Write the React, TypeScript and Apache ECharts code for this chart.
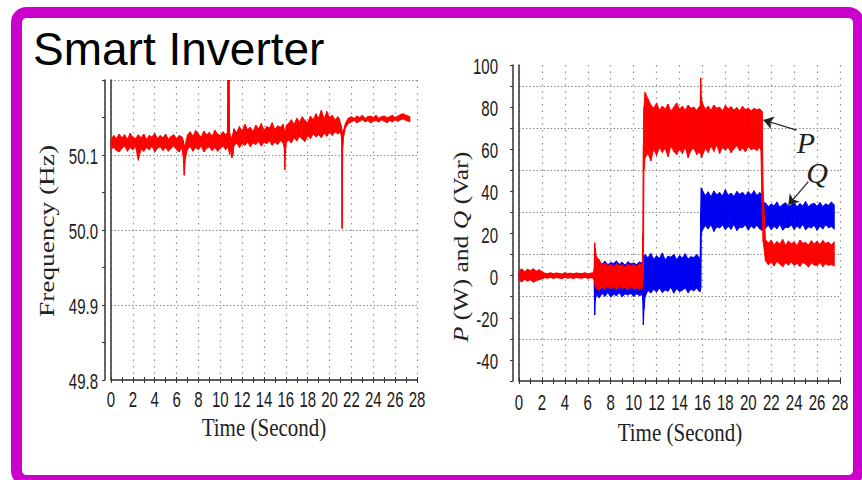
import React, { useEffect, useRef } from 'react';
import * as echarts from 'echarts';

// ---------- tick labels ----------
const timeTickLabels = ['0', '2', '4', '6', '8', '10', '12', '14', '16', '18', '20', '22', '24', '26', '28'];
const freqTickLabels = ['49.8', '49.9', '50.0', '50.1'];
const pqTickLabels = ['-40', '-20', '0', '20', '40', '60', '80', '100'];

// ---------- frequency (Hz): time, lower and upper edge of the noisy trace ----------
const freqTime = [
  0, 0.25, 0.5, 0.75, 1, 1.25, 1.5, 1.75, 2, 2.25, 2.5, 2.75, 3, 3.25, 3.5, 3.75, 4, 4.25, 4.5, 4.75, 5, 5.25, 5.5, 5.75, 6, 6.25, 6.5,
  6.6, 6.7, 6.8,
  7, 7.25, 7.5, 7.75, 8, 8.25, 8.5, 8.75, 9, 9.25, 9.5, 9.75, 10, 10.25, 10.5,
  10.65, 10.7, 10.75, 10.8, 10.85, 10.95, 11.05, 11.15,
  11.25, 11.5, 11.75, 12, 12.25, 12.5, 12.75, 13, 13.25, 13.5, 13.75, 14, 14.25, 14.5, 14.75, 15, 15.25, 15.5, 15.75,
  15.85, 15.9, 15.95, 16.05,
  16.25, 16.5, 16.75, 17, 17.25, 17.5, 17.75, 18, 18.25, 18.5, 18.75, 19, 19.25, 19.5, 19.75, 20, 20.25, 20.5, 20.75,
  20.9, 21.05, 21.1, 21.15, 21.2, 21.3, 21.45, 21.7,
  22, 22.25, 22.5, 22.75, 23, 23.25, 23.5, 23.75, 24, 24.25, 24.5, 24.75, 25, 25.25, 25.5, 25.75, 26, 26.25, 26.5, 26.75, 27, 27.25, 27.35,
];
const freqLow = [
  50.108, 50.110, 50.106, 50.104, 50.109, 50.112, 50.105, 50.110, 50.107, 50.111, 50.093, 50.108, 50.105, 50.110, 50.107, 50.112, 50.104, 50.109, 50.111, 50.106, 50.110, 50.105, 50.109, 50.112, 50.107, 50.104, 50.110,
  50.1, 50.073, 50.095,
  50.108, 50.111, 50.105, 50.110, 50.107, 50.112, 50.104, 50.109, 50.111, 50.106, 50.110, 50.105, 50.109, 50.112, 50.107,
  50.11, 50.115, 50.11, 50.105, 50.1, 50.108, 50.096, 50.1,
  50.112, 50.116, 50.110, 50.115, 50.113, 50.117, 50.111, 50.116, 50.114, 50.118, 50.112, 50.117, 50.115, 50.119, 50.113, 50.117, 50.114, 50.119, 50.116,
  50.11, 50.08, 50.1, 50.117,
  50.12, 50.116, 50.123, 50.119, 50.125, 50.121, 50.118, 50.126, 50.122, 50.128, 50.124, 50.127, 50.123, 50.129, 50.125, 50.13, 50.126, 50.131, 50.128,
  50.13, 50.128, 50.12, 50.002, 50.11, 50.126, 50.136, 50.142,
  50.144, 50.146, 50.143, 50.145, 50.147, 50.144, 50.146, 50.143, 50.145, 50.146, 50.144, 50.147, 50.145, 50.143, 50.146, 50.144, 50.147, 50.145, 50.147, 50.148, 50.146, 50.145, 50.144,
];
const freqHigh = [
  50.121, 50.126, 50.122, 50.128, 50.123, 50.127, 50.121, 50.129, 50.124, 50.122, 50.127, 50.123, 50.128, 50.121, 50.126, 50.124, 50.129, 50.122, 50.126, 50.123, 50.128, 50.121, 50.125, 50.127, 50.122, 50.126, 50.124,
  50.12, 50.11, 50.115,
  50.127, 50.131, 50.125, 50.133, 50.128, 50.124, 50.132, 50.127, 50.130, 50.125, 50.133, 50.128, 50.126, 50.131, 50.127,
  50.13, 50.2, 50.185, 50.2, 50.13, 50.125, 50.12, 50.128,
  50.135, 50.13, 50.138, 50.132, 50.141, 50.134, 50.137, 50.131, 50.14, 50.135, 50.142, 50.133, 50.138, 50.136, 50.143, 50.134, 50.139, 50.137, 50.141,
  50.135, 50.125, 50.128, 50.14,
  50.142, 50.147, 50.141, 50.149, 50.144, 50.151, 50.146, 50.143, 50.152, 50.147, 50.155, 50.149, 50.16, 50.148, 50.158, 50.15, 50.153, 50.147, 50.151,
  50.148, 50.14, 50.136, 50.132, 50.128, 50.134, 50.142, 50.149,
  50.151, 50.149, 50.152, 50.15, 50.153, 50.149, 50.151, 50.152, 50.15, 50.153, 50.149, 50.151, 50.152, 50.15, 50.151, 50.153, 50.15, 50.152, 50.154, 50.155, 50.153, 50.152, 50.151,
];

// ---------- P (W) and Q (Var): time, lower and upper edge of each noisy trace ----------
const pqTime = [
  0, 0.25, 0.5, 0.75, 1, 1.25, 1.5, 1.75, 2, 2.25, 2.5, 2.75, 3, 3.25, 3.5, 3.75, 4, 4.25, 4.5, 4.75, 5, 5.25, 5.5, 5.75, 6, 6.25, 6.5,
  6.55, 6.6, 6.65, 6.75,
  7, 7.25, 7.5, 7.75, 8, 8.25, 8.5, 8.75, 9, 9.25, 9.5, 9.75, 10, 10.25, 10.5,
  10.75, 10.8, 10.85, 10.9,
  11, 11.25, 11.5, 11.75, 12, 12.25, 12.5, 12.75, 13, 13.25, 13.5, 13.75, 14, 14.25, 14.5, 14.75, 15, 15.25, 15.5, 15.75,
  15.8, 15.85, 15.9,
  16, 16.25, 16.5, 16.75, 17, 17.25, 17.5, 17.75, 18, 18.25, 18.5, 18.75, 19, 19.25, 19.5, 19.75, 20, 20.25, 20.5, 20.75, 21,
  21.1, 21.2, 21.3,
  21.5, 21.75, 22, 22.25, 22.5, 22.75, 23, 23.25, 23.5, 23.75, 24, 24.25, 24.5, 24.75, 25, 25.25, 25.5, 25.75, 26, 26.25, 26.5, 26.75, 27, 27.25, 27.5,
];
const pLow = [
  -2.2, -3.0, -1.8, -2.6, -2.0, -3.1, -2.4, -1.9, -1.5, -1.0, -1.2, -0.8, -1.3, -0.9, -1.1, -1.4, -0.8, -1.2, -1.0, -1.3, -0.9, -1.1, -1.2, -0.8, -1.3, -1.0, -1.2,
  -1.5, -3, -5, -6,
  -7.0, -5.5, -6.5, -5.0, -6.2, -5.4, -6.8, -5.2, -6.0, -5.6, -6.6, -5.1, -6.3, -5.8, -6.4,
  -6, -3, 2, 50,
  56, 58, 54.5, 60, 57, 61, 58.5, 60.5, 56.5, 61.5, 59, 57.5, 60, 58, 61, 56, 59.5, 60.5, 57.5, 59,
  58, 60, 56,
  57, 60.5, 58.5, 61.5, 59, 62, 58, 60.8, 59.6, 61, 58.4, 60.2, 61.8, 59.2, 60.6, 58.8, 61.2, 59.8, 60.4, 59.4, 61,
  59.5, 35, 16,
  7, 5.2, 6.4, 4.6, 6.8, 5.5, 4.2, 6.1, 5.0, 6.6, 4.8, 5.8, 4.4, 6.3, 5.4, 4.1, 6.0, 5.1, 4.7, 6.2, 4.3, 5.6, 4.9, 5.3, 4.5,
];
const pHigh = [
  2.5, 3.2, 2.0, 3.0, 2.4, 3.3, 2.2, 2.8, 2.0, 1.2, 1.0, 1.4, 0.9, 1.3, 1.1, 0.8, 1.4, 1.0, 1.2, 0.9, 1.3, 1.1, 1.0, 1.4, 0.9, 1.2, 1.5,
  3, 15.6, 13, 9,
  7.5, 5.0, 6.0, 4.5, 5.5, 4.2, 5.8, 4.8, 5.2, 4.0, 5.6, 4.6, 5.3, 4.4, 5.7,
  5, 20, 62, 80,
  87, 84, 81, 79.5, 82, 78.5, 80.5, 79, 81.5, 78, 80, 82, 79, 80.5, 78.5, 81, 79.5, 80, 78.5, 80.5,
  80, 93.8, 85,
  82, 79, 80.5, 78.5, 81, 79.5, 80, 78.2, 80.8, 79.2, 80.2, 78.6, 79.8, 78.4, 80.4, 78.8, 79.6, 78.3, 79.4, 78.7, 79.2,
  78.5, 78, 40,
  17, 15.5, 16.8, 14.6, 16.2, 15, 17.2, 14.4, 16.5, 15.2, 16, 14.2, 16.9, 15.4, 15.8, 14.5, 16.6, 15.1, 16.3, 14.8, 16.7, 15.3, 15.9, 14.6, 16.1,
];
const qLow = [
  -1.8, -2.4, -1.5, -2.0, -1.7, -2.5, -1.9, -1.6, -1.3, -0.8, -1.0, -0.6, -1.1, -0.7, -0.9, -1.2, -0.6, -1.0, -0.8, -1.1, -0.7, -0.9, -1.0, -0.6, -1.1, -0.8, -1.0,
  -2, -18.7, -12, -9,
  -10.5, -8.5, -9.8, -8.0, -10.2, -8.8, -9.5, -8.2, -10.0, -8.6, -9.2, -8.4, -9.9, -8.7, -9.4,
  -9, -12, -23.4, -16,
  -10, -7.0, -8.2, -6.5, -7.8, -5.8, -8.0, -6.8, -7.4, -5.5, -8.3, -6.2, -7.6, -6.9, -5.8, -8.1, -6.4, -7.2, -5.9, -7.7,
  -7.5, -6, 20,
  21.5, 23.8, 22.2, 24.2, 21.0, 23.2, 22.6, 24.0, 21.8, 23.5, 22.0, 24.4, 21.4, 23.0, 22.8, 24.1, 21.6, 23.6, 22.4, 23.9, 22.1,
  22, 21.5, 22,
  22.5, 24, 21.8, 23.4, 22.2, 24.3, 21.6, 23, 22.8, 24.1, 21.9, 23.6, 22.4, 24.4, 21.7, 23.2, 22.6, 23.9, 21.5, 23.5, 22.1, 24.2, 22.7, 23.3, 22,
];
const qHigh = [
  1.5, 2.0, 1.2, 1.8, 1.4, 2.1, 1.3, 1.7, 1.2, 0.6, 0.8, 0.5, 0.7, 0.6, 0.9, 0.5, 0.8, 0.6, 0.7, 0.5, 0.8, 0.6, 0.7, 0.9, 0.5, 0.7, 0.8,
  1, 2, 4, 5,
  6.5, 5.5, 6.8, 5.2, 6.2, 5.8, 7.0, 5.4, 6.4, 5.0, 6.6, 5.6, 6.0, 5.3, 6.5,
  6, 4, 3, 8,
  10, 8.5, 10.5, 7.8, 9.5, 8.2, 10.8, 7.5, 9.2, 8.8, 10.2, 7.6, 9.6, 8.4, 10.4, 7.9, 9.0, 8.6, 10.0, 8.3,
  8.5, 30, 41.7,
  40.5, 38, 39.8, 37.5, 40.2, 38.4, 39.5, 37.8, 40.8, 38.2, 39.2, 37.6, 40, 38.6, 39.6, 37.9, 39.9, 38.3, 40.3, 38.1, 39.4,
  39, 38, 35,
  34.5, 32.8, 34, 33.2, 35, 32.5, 33.8, 34.6, 32.9, 33.5, 34.8, 32.6, 34.2, 33.1, 35.2, 32.7, 33.9, 34.4, 33, 34.7, 32.8, 34.1, 33.4, 35, 33.6,
];

// ---------- annotations (data coordinates of the right chart) ----------
const pArrowFrom = [24.22, 69.1];
const pArrowTo = [21.31, 73.9];
const qArrowFrom = [25.24, 44.6];
const qArrowTo = [23.49, 33.5];
const pLabelAt = [25.03, 63.0];
const qLabelAt = [26.0, 49.2];

const AXIS = '#333';
const RED = '#ff0000';
const BLUE = '#0000f0';
const tickFont = "'Liberation Sans', Arial, sans-serif";
const serifFont = "'Liberation Serif', 'Times New Roman', serif";

function bandData(t: number[], lo: number[], hi: number[]) {
  const n = Math.min(t.length, lo.length, hi.length);
  const out: number[][] = [];
  for (let i = 0; i < n - 1; i++) {
    out.push([t[i], lo[i], hi[i], t[i + 1], lo[i + 1], hi[i + 1]]);
  }
  return out;
}

function bandSeries(name: string, xi: number, yi: number, t: number[], lo: number[], hi: number[], color: string) {
  return {
    type: 'custom',
    name,
    xAxisIndex: xi,
    yAxisIndex: yi,
    silent: true,
    data: bandData(t, lo, hi),
    encode: { x: [0, 3], y: [1, 2, 4, 5] },
    renderItem: (_params: any, api: any) => {
      const a = api.coord([api.value(0), api.value(2)]);
      const b = api.coord([api.value(3), api.value(5)]);
      const c = api.coord([api.value(3), api.value(4)]);
      const d = api.coord([api.value(0), api.value(1)]);
      return {
        type: 'polygon',
        shape: { points: [a, b, c, d] },
        style: { fill: color, stroke: color, lineWidth: 0.9 },
      };
    },
  };
}

function timeAxisMain(gridIndex: number) {
  return {
    type: 'value',
    gridIndex,
    position: 'bottom',
    min: 0,
    max: 28,
    interval: 2,
    axisLine: { show: true, onZero: false, lineStyle: { color: AXIS, width: 1.5 } },
    axisTick: { show: true, inside: false, length: 3, lineStyle: { color: AXIS } },
    minorTick: { show: true, splitNumber: 2, length: 3, lineStyle: { color: AXIS } },
    axisLabel: { show: false },
    splitLine: { show: true, lineStyle: { color: '#909090', type: [1.5, 5], width: 1.2 } },
  };
}

function timeAxisInner(gridIndex: number) {
  return {
    type: 'value',
    gridIndex,
    position: 'bottom',
    min: 0,
    max: 28,
    interval: 2,
    axisLine: { show: false, onZero: false },
    axisTick: { show: true, inside: true, length: 3, lineStyle: { color: AXIS } },
    minorTick: { show: true, splitNumber: 2, length: 3, lineStyle: { color: AXIS } },
    axisLabel: { show: false },
    splitLine: { show: false },
  };
}

const baseGraphics: any[] = [
  {
    id: 'frame',
    type: 'rect',
    silent: true,
    shape: { x: 16.5, y: 12.5, width: 842, height: 468, r: 10 },
    style: { fill: 'none', stroke: '#cc00cc', lineWidth: 11 },
  },
  {
    id: 'title',
    type: 'text',
    x: 33,
    y: 49,
    style: {
      text: 'Smart Inverter',
      fontSize: 46,
      fontFamily: "'Liberation Sans', Arial, sans-serif",
      fill: '#000',
      align: 'left',
      verticalAlign: 'middle',
    },
  },
  {
    id: 'yname0',
    type: 'text',
    x: 47,
    y: 231,
    rotation: Math.PI / 2,
    scaleX: 1.3,
    style: {
      text: 'Frequency (Hz)',
      fontSize: 21,
      fontFamily: serifFont,
      fill: '#222',
      align: 'center',
      verticalAlign: 'middle',
    },
  },
  {
    id: 'yname1',
    type: 'text',
    x: 461,
    y: 247,
    rotation: Math.PI / 2,
    scaleX: 1.22,
    style: {
      text: '{i|P} (W) and {i|Q} (Var)',
      fontSize: 21,
      fontFamily: serifFont,
      fill: '#222',
      align: 'center',
      verticalAlign: 'middle',
      rich: { i: { fontStyle: 'italic', fontSize: 21, fontFamily: serifFont, fill: '#222' } },
    },
  },
  {
    id: 'xname0',
    type: 'text',
    x: 264,
    y: 427,
    scaleY: 1.2,
    style: { text: 'Time (Second)', fontSize: 21, fontFamily: serifFont, fill: '#222', align: 'center', verticalAlign: 'middle' },
  },
  {
    id: 'xname1',
    type: 'text',
    x: 680,
    y: 432,
    scaleY: 1.2,
    style: { text: 'Time (Second)', fontSize: 21, fontFamily: serifFont, fill: '#222', align: 'center', verticalAlign: 'middle' },
  },
];

const option: any = {
  animation: false,
  backgroundColor: '#ffffff',
  grid: [
    { left: 111, top: 80, width: 306, height: 300 },
    { left: 519, top: 65, width: 321, height: 316 },
  ],
  xAxis: [timeAxisMain(0), timeAxisInner(0), timeAxisMain(1), timeAxisInner(1)],
  yAxis: [
    {
      type: 'value',
      gridIndex: 0,
      position: 'left',
      offset: 6,
      min: 49.8,
      max: 50.2,
      interval: 0.1,
      axisLine: { show: true, onZero: false, lineStyle: { color: AXIS, width: 1.5 } },
      axisTick: { show: true, length: 3, lineStyle: { color: AXIS } },
      minorTick: { show: true, splitNumber: 2, length: 3, lineStyle: { color: AXIS } },
      axisLabel: { show: false },
      splitLine: { show: true, lineStyle: { color: '#8a8a8a', type: [1.5, 2], width: 1.2 } },
    },
    {
      type: 'value',
      gridIndex: 0,
      position: 'left',
      offset: 0,
      min: 49.8,
      max: 50.2,
      interval: 0.1,
      axisLine: { show: true, onZero: false, lineStyle: { color: AXIS, width: 1.5 } },
      axisTick: { show: false },
      axisLabel: { show: false },
      splitLine: { show: false },
    },
    {
      type: 'value',
      gridIndex: 1,
      position: 'left',
      offset: 6,
      min: -50,
      max: 100,
      interval: 10,
      axisLine: { show: true, onZero: false, lineStyle: { color: AXIS, width: 1.5 } },
      axisTick: { show: true, length: 3, lineStyle: { color: AXIS } },
      axisLabel: { show: false },
      splitLine: { show: false },
    },
    {
      // same scale shifted by 10, only used for the dotted grid at -30, -10, 10 ... 90
      type: 'value',
      gridIndex: 1,
      position: 'left',
      offset: 0,
      min: -40,
      max: 110,
      interval: 20,
      axisLine: { show: true, onZero: false, lineStyle: { color: AXIS, width: 1.5 } },
      axisTick: { show: false },
      axisLabel: { show: false },
      splitLine: { show: true, showMinLine: false, showMaxLine: false, lineStyle: { color: '#8a8a8a', type: [1.5, 2], width: 1.2 } },
    },
  ],
  series: [
    bandSeries('Frequency', 0, 0, freqTime, freqLow, freqHigh, RED),
    bandSeries('Q', 2, 2, pqTime, qLow, qHigh, BLUE),
    bandSeries('P', 2, 2, pqTime, pLow, pHigh, RED),
    {
      type: 'line',
      name: 'annotations',
      xAxisIndex: 2,
      yAxisIndex: 2,
      data: [],
      silent: true,
      markLine: {
        silent: true,
        symbol: ['none', 'arrow'],
        symbolSize: 10,
        label: { show: false },
        lineStyle: { color: '#222', width: 1.2, type: 'solid' },
        data: [
          [{ coord: pArrowFrom }, { coord: pArrowTo }],
          [{ coord: qArrowFrom }, { coord: qArrowTo }],
        ],
      },
      markPoint: {
        silent: true,
        symbol: 'circle',
        symbolSize: 2,
        itemStyle: { color: 'rgba(0,0,0,0)' },
        label: {
          show: true,
          position: 'inside',
          formatter: '{b}',
          fontFamily: serifFont,
          fontStyle: 'italic',
          fontSize: 30,
          color: '#222',
        },
        data: [
          { name: 'P', coord: pLabelAt },
          { name: 'Q', coord: qLabelAt },
        ],
      },
    },
  ],
  graphic: baseGraphics,
};

// tall, narrow tick label (the original figure is stretched vertically)
function tickText(id: string, text: string, x: number, y: number, align: string) {
  return {
    id,
    type: 'text',
    x,
    y,
    scaleY: 1.42,
    silent: true,
    style: { text, fontSize: 15, fontFamily: tickFont, fill: '#1a1a1a', align, verticalAlign: 'middle' },
  };
}

export default function App() {
  const ref = useRef<HTMLDivElement>(null);
  useEffect(() => {
    document.body.style.margin = '0';
    if (!ref.current) return;
    const chart = echarts.init(ref.current, null, { renderer: 'svg' });
    chart.setOption(option);
    const ticks: any[] = [];
    timeTickLabels.forEach((s, i) => {
      const v = Number(s);
      const x0 = chart.convertToPixel({ xAxisIndex: 0 } as any, v) as number;
      const x1 = chart.convertToPixel({ xAxisIndex: 2 } as any, v) as number;
      const b0 = chart.convertToPixel({ yAxisIndex: 0 } as any, 49.8) as number;
      const b1 = chart.convertToPixel({ yAxisIndex: 2 } as any, -50) as number;
      ticks.push(tickText('tx0_' + i, s, x0, b0 + 19.5, 'center'));
      ticks.push(tickText('tx1_' + i, s, x1, b1 + 21, 'center'));
    });
    freqTickLabels.forEach((s, i) => {
      const y = chart.convertToPixel({ yAxisIndex: 0 } as any, Number(s)) as number;
      ticks.push(tickText('ty0_' + i, s, 98, y + 1.5, 'right'));
    });
    pqTickLabels.forEach((s, i) => {
      const y = chart.convertToPixel({ yAxisIndex: 2 } as any, Number(s)) as number;
      ticks.push(tickText('ty1_' + i, s, 498, y + 1.5, 'right'));
    });
    chart.setOption({ graphic: [...baseGraphics, ...ticks] });
    return () => chart.dispose();
  }, []);
  return <div ref={ref} style={{ position: 'absolute', left: 0, top: 0, width: 862, height: 480 }} />;
}
